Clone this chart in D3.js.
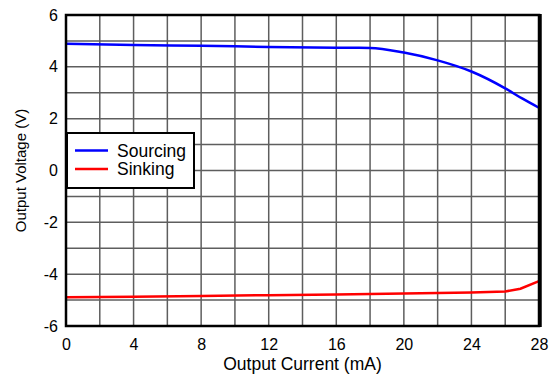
<!DOCTYPE html>
<html>
<head>
<meta charset="utf-8">
<script src="https://cdn.jsdelivr.net/npm/d3@7"></script>
<style>
  html, body { margin: 0; padding: 0; background: #fff; }
  svg { display: block; font-family: "Liberation Sans", Arial, sans-serif; }
</style>
</head>
<body>
<svg id="chart" width="554" height="376"></svg>
<script>
// Output voltage vs output current
const xTicks = [0, 4, 8, 12, 16, 20, 24, 28];
const yTicks = [-6, -4, -2, 0, 2, 4, 6];

const sourcingCurrent = [0, 4, 8, 12, 16, 18, 20, 22, 24, 26, 27, 28];
const sourcingVoltage = [4.89, 4.84, 4.81, 4.77, 4.74, 4.73, 4.55, 4.25, 3.82, 3.17, 2.78, 2.42];

const sinkingCurrent = [0, 4, 8, 12, 16, 20, 24, 26, 26.9, 28];
const sinkingVoltage = [-4.89, -4.87, -4.84, -4.81, -4.78, -4.75, -4.71, -4.67, -4.56, -4.27];

const seriesNames = ["Sourcing", "Sinking"];
const seriesColors = ["#0000ff", "#ff0000"];

const svg = d3.select("#chart");
const plotL = 66, plotR = 539, plotT = 15, plotB = 326;

const x = d3.scaleLinear().domain([0, 28]).range([plotL, plotR]);
const y = d3.scaleLinear().domain([-6, 6]).range([plotB, plotT]);

// grid: every 2 mA, every 1 V
const grid = svg.append("g");
grid.selectAll("line.v").data(d3.range(2, 28, 2)).join("line")
  .attr("x1", d => x(d)).attr("x2", d => x(d))
  .attr("y1", plotT).attr("y2", plotB)
  .attr("stroke", "#5e5e5e").attr("stroke-width", 1.5);
grid.selectAll("line.h").data(d3.range(-5, 6, 1)).join("line")
  .attr("x1", plotL).attr("x2", plotR)
  .attr("y1", d => y(d)).attr("y2", d => y(d))
  .attr("stroke", "#5e5e5e").attr("stroke-width", 1.5);

// axes (labels only, plain hyphen for negatives)
const fmt = d => String(d);
const xAxis = svg.append("g").attr("transform", `translate(0,${plotB})`)
  .call(d3.axisBottom(x).tickValues(xTicks).tickFormat(fmt).tickSize(0).tickPadding(13));
const yAxis = svg.append("g").attr("transform", `translate(${plotL},0)`)
  .call(d3.axisLeft(y).tickValues(yTicks).tickFormat(fmt).tickSize(0).tickPadding(8));
[xAxis, yAxis].forEach(a => {
  a.select(".domain").remove();
  a.selectAll("text").attr("font-size", 16).attr("fill", "#000")
    .attr("font-family", "Liberation Sans, Arial, sans-serif");
});

// series
const line = d3.line().x(d => x(d[0])).y(d => y(d[1])).curve(d3.curveMonotoneX);
const sourcing = sourcingCurrent.map((c, i) => [c, sourcingVoltage[i]]);
const sinking = sinkingCurrent.map((c, i) => [c, sinkingVoltage[i]]);
svg.append("path").datum(sourcing).attr("d", line)
  .attr("fill", "none").attr("stroke", seriesColors[0]).attr("stroke-width", 2.5);
svg.append("path").datum(sinking)
  .attr("d", d3.line().x(d => x(d[0])).y(d => y(d[1])))
  .attr("fill", "none").attr("stroke", seriesColors[1]).attr("stroke-width", 2.5);

// frame
svg.append("rect").attr("x", plotL).attr("y", plotT)
  .attr("width", plotR - plotL).attr("height", plotB - plotT)
  .attr("fill", "none").attr("stroke", "#000").attr("stroke-width", 2.5);
svg.append("line").attr("x1", plotR + 1).attr("x2", plotR + 1)
  .attr("y1", plotT - 1).attr("y2", plotB + 1)
  .attr("stroke", "#000").attr("stroke-width", 3.5);

// axis titles
svg.append("text").attr("x", (plotL + plotR) / 2).attr("y", 370)
  .attr("text-anchor", "middle").attr("font-size", 17.5).text("Output Current (mA)");
svg.append("text").attr("transform", `translate(26,${(plotT + plotB) / 2}) rotate(-90)`)
  .attr("text-anchor", "middle").attr("font-size", 15).text("Output Voltage (V)");

// legend
const lg = svg.append("g");
lg.append("rect").attr("x", 67).attr("y", 133).attr("width", 127).attr("height", 55)
  .attr("fill", "#fff").attr("stroke", "#000").attr("stroke-width", 2);
seriesNames.forEach((name, i) => {
  const cy = 150.5 + i * 18.5;
  lg.append("line").attr("x1", 75).attr("x2", 108).attr("y1", cy).attr("y2", cy)
    .attr("stroke", seriesColors[i]).attr("stroke-width", 2.5);
  lg.append("text").attr("x", 117).attr("y", cy + 6).attr("font-size", 17.5).text(name);
});
</script>
</body>
</html>
